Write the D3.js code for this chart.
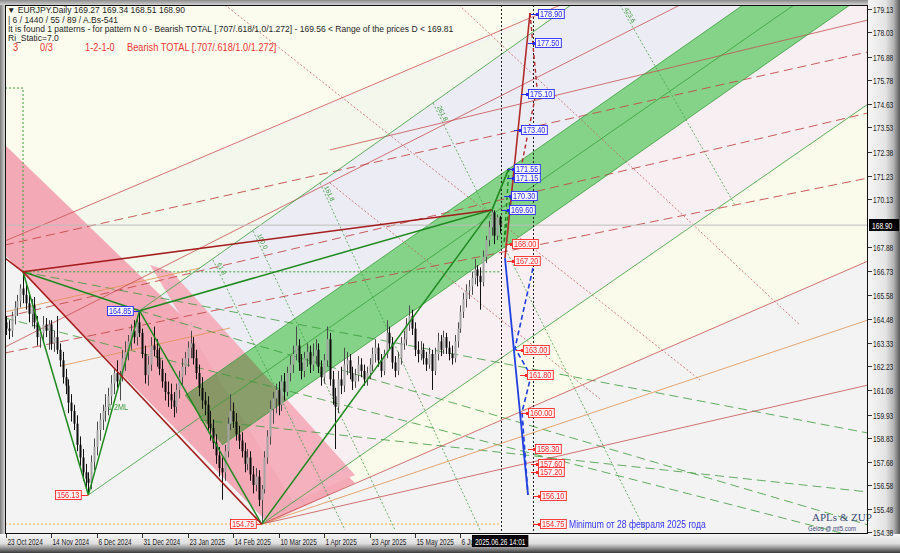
<!DOCTYPE html>
<html><head><meta charset="utf-8">
<script src="https://cdn.jsdelivr.net/npm/d3@7"></script>
<style>
html,body{margin:0;padding:0;background:#c8c8c8;}
svg{display:block;}
</style></head><body>
<svg id="c" width="900" height="553"></svg>
<script>
// ---------------- DATA ----------------
// Daily candles [open, high, low, close], bar 0 = 23 Oct 2024
const candlesOct24 = [[164.3,164.6,163.7,164.0],[164.0,164.4,163.5,163.9],[163.9,164.8,163.6,164.6],[164.6,165.3,164.2,165.0],[165.0,165.6,164.6,165.3],[165.3,166.1,165.0,165.9],[165.9,166.69,165.2,165.6]];
const candlesNov24 = [[165.6,166.2,164.9,165.2],[165.2,165.6,164.3,164.7],[164.7,165.4,164.1,165.1],[165.1,165.5,164.0,164.3],[164.3,164.6,163.2,163.6],[163.6,164.0,163.1,163.8],[163.8,164.6,163.4,164.2],[164.2,164.5,163.6,163.9],[163.9,164.4,163.0,164.2],[164.2,164.4,163.0,163.3],[163.3,163.9,162.9,163.6],[163.6,164.6,162.8,163.0],[163.0,163.3,162.2,162.5],[162.5,162.9,161.4,161.7],[161.7,162.1,160.9,161.3],[161.3,161.6,160.0,160.5],[160.5,160.9,159.6,160.1],[160.1,160.4,159.2,159.5],[159.5,159.9,158.2,158.5],[158.5,158.9,157.5,157.9],[157.9,158.3,156.8,157.2]];
const candlesDec24 = [[157.2,157.6,156.5,156.9],[156.9,157.2,156.13,156.7],[156.7,158.0,156.4,157.7],[157.7,158.8,157.3,158.4],[158.4,159.6,158.0,159.2],[159.2,160.0,158.7,159.7],[159.7,160.4,159.2,160.1],[160.1,160.9,159.6,160.3],[160.3,161.2,159.9,160.8],[160.8,161.8,160.4,161.4],[161.4,162.1,160.9,161.9],[161.9,162.5,161.2,161.5],[161.5,162.0,160.6,161.8],[161.8,163.0,161.5,162.6],[162.6,163.4,162.0,162.9],[162.9,163.7,162.5,163.4],[163.4,164.2,163.0,163.9],[163.9,164.4,163.3,163.6],[163.6,164.6,163.2,164.3],[164.3,164.85,163.6,163.8],[163.8,164.0,162.6,162.8]];
const candlesJan25 = [[162.8,163.2,161.4,161.8],[161.8,162.7,161.3,162.3],[162.3,163.6,162.0,163.2],[163.2,164.1,162.7,163.0],[163.0,163.5,162.2,162.6],[162.6,163.1,161.8,162.1],[162.1,162.5,161.2,161.5],[161.5,161.9,160.6,161.0],[161.0,161.5,160.3,160.9],[160.9,161.4,160.2,160.6],[160.6,161.0,159.8,160.3],[160.3,161.4,160.0,161.1],[161.1,162.0,160.7,161.7],[161.7,162.6,161.3,162.2],[162.2,162.9,161.8,162.6],[162.6,163.4,162.2,163.1],[163.1,163.9,162.6,163.3],[163.3,163.6,162.3,162.6],[162.6,163.0,161.6,161.9],[161.9,162.3,160.8,161.2],[161.2,161.7,160.2,160.6],[160.6,161.0,159.9,160.4]];
const candlesFeb25 = [[160.4,160.8,159.1,159.5],[159.5,160.1,158.7,159.3],[159.3,159.7,158.3,158.6],[158.6,159.0,157.6,158.0],[158.0,158.4,157.0,157.4],[157.4,157.9,155.9,157.2],[157.2,158.5,156.8,158.2],[158.2,159.8,157.9,159.5],[159.5,160.9,159.2,160.1],[160.1,160.5,159.3,159.6],[159.6,160.0,158.7,159.0],[159.0,159.4,158.3,158.7],[158.7,159.1,157.9,158.2],[158.2,158.6,157.2,157.6],[157.6,158.3,157.3,157.9],[157.9,158.2,156.8,157.1],[157.1,157.5,156.2,156.6],[156.6,157.4,156.3,157.0],[157.0,157.3,155.6,155.9],[155.9,156.6,154.75,156.4]];
const candlesMar25 = [[156.4,158.2,156.2,157.9],[157.9,159.2,157.6,158.9],[158.9,160.6,158.5,160.2],[160.2,161.0,159.5,160.7],[160.7,161.4,160.0,161.1],[161.1,161.5,159.9,160.4],[160.4,161.8,160.1,161.5],[161.5,161.9,160.6,161.0],[161.0,162.2,160.8,161.9],[161.9,162.7,161.5,162.3],[162.3,163.2,161.9,162.8],[162.8,164.1,162.5,163.2],[163.2,163.5,162.0,162.4],[162.4,162.8,161.6,162.0],[162.0,162.9,161.7,162.6],[162.6,163.3,162.2,162.9],[162.9,163.2,161.9,162.3],[162.3,163.3,162.0,162.7],[162.7,163.5,162.3,163.0],[163.0,163.3,161.9,162.2],[162.2,162.5,161.3,161.7]];
const candlesApr25 = [[161.7,162.8,161.4,162.5],[162.5,164.1,162.2,163.5],[163.5,163.8,161.3,161.6],[161.6,162.0,160.4,160.8],[160.8,161.2,158.3,160.3],[160.3,162.0,160.0,161.6],[161.6,162.2,160.9,161.3],[161.3,163.1,161.0,162.3],[162.3,162.9,161.8,162.5],[162.5,162.8,161.6,161.9],[161.9,162.2,161.1,161.5],[161.5,162.1,161.2,161.8],[161.8,162.7,161.5,162.3],[162.3,162.6,161.7,162.0],[162.0,162.3,161.3,161.6],[161.6,162.2,161.3,161.9],[161.9,162.6,161.6,162.3],[162.3,163.1,162.0,162.8],[162.8,163.5,162.4,163.1],[163.1,163.3,162.2,162.5],[162.5,162.8,161.7,162.0],[162.0,163.0,161.8,162.8]];
const candlesMay25 = [[162.8,164.4,162.6,163.8],[163.8,164.1,163.0,163.3],[163.3,163.6,162.1,162.4],[162.4,162.7,161.7,162.0],[162.0,162.9,161.8,162.6],[162.6,163.6,162.3,163.3],[163.3,163.9,163.0,163.5],[163.5,164.5,163.2,164.2],[164.2,165.1,163.9,164.6],[164.6,164.9,163.7,164.0],[164.0,164.3,162.7,163.0],[163.0,163.4,162.4,162.8],[162.8,163.4,162.5,163.0],[163.0,163.3,162.3,162.6],[162.6,162.9,162.0,162.3],[162.3,163.1,162.1,162.8],[162.8,163.0,161.1,162.0],[162.0,163.1,161.8,162.8],[162.8,163.8,162.5,163.4],[163.4,163.7,162.7,163.0],[163.0,163.9,162.8,163.6],[163.6,163.8,162.8,163.1]];
const candlesJun25 = [[163.1,163.4,162.5,162.8],[162.8,163.2,162.3,162.6],[162.6,163.7,162.4,163.4],[163.4,164.3,163.1,164.0],[164.0,165.1,163.8,164.8],[164.8,165.7,164.5,165.4],[165.4,166.1,165.0,165.8],[165.8,166.3,165.4,166.0],[166.0,166.7,165.6,166.4],[166.4,167.3,166.1,166.8],[166.8,167.0,166.0,166.5],[166.5,166.9,164.9,166.2],[166.2,167.7,166.0,167.4],[167.4,168.4,167.1,168.2],[168.2,169.1,167.9,168.8],[168.8,169.72,168.4,169.5],[169.5,169.6,168.0,168.4],[168.4,169.4,168.2,169.27],[169.27,169.34,168.51,168.90]];

const tickBars   = [0,16,32,48,64,80,96,112,128,144,160];
const tickLabels = ["23 Oct 2024","14 Nov 2024","6 Dec 2024","31 Dec 2024","23 Jan 2025","14 Feb 2025","10 Mar 2025","1 Apr 2025","23 Apr 2025","15 May 2025","6 Jun 2025"];
const priceTicks = [179.13,178.03,176.88,175.78,174.63,173.53,172.38,171.23,170.13,167.88,166.73,165.58,164.48,163.33,162.23,161.08,159.93,158.83,157.68,156.58,155.48,154.38];
const lastPrice = 168.90;
const currentBar = 174;
const projectionBar = 185.56;
const currentTimeLabel = "2025.06.26 14:01";

// pattern pivots (bar, price): 0, X, B, C, D
const pivotBars   = [6, 29, 47, 90, 171];
const pivotPrices = [166.69, 156.13, 164.85, 154.75, 169.62];

// shaded zones [bar, price]
const zoneCream      = [[-0.35,179.32],[196.83,179.32],[-0.35,168.15]];
const zoneGreenWhite = [[-0.35,168.15],[198.94,179.32],[47,164.85],[6,166.69],[-0.35,167.34]];
const zoneLavender   = [[47,164.85],[198.94,179.32],[297.18,179.32],[76.06,158.49],[74.3,158.49]];
const zonePinkish    = [[76.06,158.49],[297.18,179.32],[303.52,179.32],[303.52,174.63],[90,154.75],[74.3,158.49]];
const zoneCreamRight = [[90,154.75],[303.52,174.63],[303.52,167.20]];
const pinkBand1      = [[-0.35,172.69],[122.89,156.69],[92.25,154.80],[-0.35,167.49]];
const pinkBand2      = [[50.7,167.01],[58.45,166.68],[122.89,157.07],[101.06,155.79]];
const greenChannel   = [[63.03,160.84],[259.51,179.32],[297.18,179.32],[76.06,158.49]];

// thin lines [bar, price] pairs
const greenThin  = [[[47,164.85],[198.94,179.32]],[[90,154.75],[303.52,174.63]],[[29,156.13],[279.58,179.52]],[[63.03,160.84],[259.51,179.32]],[[76.06,158.49],[297.18,179.32]]];
const redThin    = [[[-0.35,168.15],[198.59,179.51]],[[114.08,172.46],[303.52,178.61]],[[-0.35,163.13],[237.32,179.32]],[[90,154.75],[303.52,167.20]],[[90,154.75],[303.52,161.33]]];
const orangeThin = [[[90,154.75],[303.52,164.41]],[[-0.35,164.79],[68.31,166.87]],[[19.01,162.23],[78.87,164.03]]];
const redDashed  = [[[-0.35,167.96],[303.52,177.10]],[[-0.35,164.55],[303.52,174.21]],[[-0.35,162.85],[303.52,171.13]]];
const greenDashed= [[[6,166.69],[303.52,159.06]],[[-0.35,164.50],[303.52,154.0]],[[68.31,159.68],[303.52,156.27]],[[47,164.85],[303.52,154.71]]];
const redDotted  = [[[159.51,179.32],[279.58,164.17]],[[77.11,179.32],[244.37,161.57]],[[114.08,170.89],[209.15,160.67]]];
const fibLines = [
  {label:"61.8",  pts:[[72.89,167.25],[119.37,154.47]]},
  {label:"100.0", pts:[[86.97,168.62],[136.97,154.47]]},
  {label:"161.8", pts:[[110.56,170.89],[166.9,154.47]]},
  {label:"261.8", pts:[[150.35,174.68],[225.0,154.47]]},
  {label:"423.6", pts:[[216.2,179.32],[256.69,169.85]]}
];

// projections
const projRedSolid   = [[175.7,167.34],[184.51,178.94]];
const projRedDashed  = [[184.51,178.94],[186.97,175.39],[181.34,171.60]];
const projGreenSolid = [[171.13,169.62],[177.11,171.60]];
const projGreenDashed= [[177.11,171.60],[175.35,168.05],[177.82,170.33]];
const projBlueSolid  = [[175.7,167.34],[183.8,156.13]];
const projBlueDashed = [[185.56,166.87],[179.23,163.08],[184.86,161.76],[181.69,160.05],[183.8,156.13]];

// level labels [bar, price]
const levelsBlue = [[187.32,178.90],[186.27,177.50],[183.8,175.10],[181.34,173.40],[178.87,171.55],[178.87,171.15],[177.82,170.30],[177.11,169.60]];
const levelsRed  = [[178.17,168.00],[178.87,167.20],[182.04,163.00],[183.45,161.80],[183.8,160.00],[186.27,158.30],[187.32,157.60],[187.32,157.20],[188.03,156.10],[188.03,154.75]];
const pivotLabels = [{bar:35.56,price:164.85,kind:"blue",to:47},{bar:17.25,price:156.13,kind:"red",to:29},{bar:78.87,price:154.75,kind:"red",to:90}];
const minimumNote = "Minimum от 28 февраля 2025 года";

const headerLines = ["▼ EURJPY.Daily  169.27 169.34 168.51 168.90",
  " | 6 / 1440 / 55 / 89 / A.Bs-541",
  "It is found 1 patterns  -  for pattern N 0 - Bearish TOTAL [.707/.618/1.0/1.272] - 169.56 < Range of the prices D < 169.81",
  "Ri_Static=7.0"];
const statusParts = ["3","0/3","1-2-1-0","Bearish TOTAL [.707/.618/1.0/1.272]"];

// ---------------- DRAW ----------------
const candles = [].concat(candlesOct24,candlesNov24,candlesDec24,candlesJan25,candlesFeb25,candlesMar25,candlesApr25,candlesMay25,candlesJun25);
const FONT = '"Liberation Sans",Arial,sans-serif';
const SQ = 0.8; // horizontal condensing of MT-style narrow text
const PL=5, PT=5, PR=868, PB=534;
const x = d3.scaleLinear().domain([0,174]).range([6,500.16]);
const y = d3.scaleLinear().domain([154.28,179.32]).range([PB,PT]);
const line = d3.line().x(d=>x(d[0])).y(d=>y(d[1]));
const svg = d3.select("#c");
const defs = svg.append("defs");
defs.append("clipPath").attr("id","clip").append("rect").attr("x",PL).attr("y",PT).attr("width",PR-PL).attr("height",PB-PT);
function grad(id, x1,y1,x2,y2, stops){
  const gg = defs.append("linearGradient").attr("id",id).attr("x1",x1).attr("y1",y1).attr("x2",x2).attr("y2",y2);
  stops.forEach(s=>gg.append("stop").attr("offset",s[0]).attr("stop-color",s[1]));
}
grad("gR","0","0","1","0",[[0,"#f6f6f6"],[0.55,"#e4e4e4"],[0.8,"#b4b4b4"],[1,"#585858"]]);
grad("gB","0","0","0","1",[[0,"#f6f6f6"],[0.5,"#dedede"],[0.72,"#9a9a9a"],[1,"#383838"]]);
grad("gL","0","0","1","0",[[0,"#7a7a7a"],[1,"#d6d6d6"]]);
grad("gT","0","0","0","1",[[0,"#8a8a8a"],[1,"#d2d2d2"]]);

// condensed text helper
function ntext(parent, tx, ty, size, str, fill, sq){
  const k = sq===undefined ? SQ : sq;
  const gg = parent.append("g").attr("transform",`translate(${tx},${ty}) scale(${k},1)`);
  const t = gg.append("text").attr("x",0).attr("y",0).attr("font-family",FONT).attr("font-size",size).attr("fill",fill).text(str);
  return {g:gg, t:t, width:t.node().getComputedTextLength()*k};
}

svg.append("rect").attr("width",900).attr("height",553).attr("fill","#cfcfcf");
svg.append("rect").attr("x",PR).attr("y",0).attr("width",900-PR).attr("height",553).attr("fill","url(#gR)");
svg.append("rect").attr("x",0).attr("y",PB).attr("width",900).attr("height",553-PB).attr("fill","url(#gB)");
svg.append("rect").attr("x",0).attr("y",0).attr("width",PL).attr("height",PB).attr("fill","url(#gL)");
svg.append("rect").attr("x",0).attr("y",0).attr("width",PR).attr("height",PT).attr("fill","url(#gT)");

const g = svg.append("g").attr("clip-path","url(#clip)");
g.append("rect").attr("x",PL).attr("y",PT).attr("width",PR-PL).attr("height",PB-PT).attr("fill","#f3f3f3");
function poly(pts, fill, extra){ const p=g.append("path").attr("d",line(pts)+"Z").attr("fill",fill); if(extra) extra(p); return p; }
poly(zoneCream,"#fcfcee");
poly(zoneGreenWhite,"#f3f7ec");
poly(zoneLavender,"#ececf4");
poly(zonePinkish,"#f8eff2");
poly(zoneCreamRight,"#fbfbeb");
poly(pinkBand1,"#f4a9b7");
poly(pinkBand2,"#f5b1be");
poly(greenChannel,"#8fe48f", p=>p.style("mix-blend-mode","multiply"));

function lines(arr, color, w, dash){
  arr.forEach(pts=>{ const p=g.append("path").attr("d",line(pts)).attr("fill","none").attr("stroke",color).attr("stroke-width",w);
    if(dash) p.attr("stroke-dasharray",dash); });
}
lines(redDotted,"#c86060",0.8,"2,2");
fibLines.forEach(f=>{
  g.append("path").attr("d",line(f.pts)).attr("fill","none").attr("stroke","#45a045").attr("stroke-width",0.8).attr("stroke-dasharray","2,2");
  const x1=x(f.pts[0][0]), y1=y(f.pts[0][1]), x2=x(f.pts[1][0]), y2=y(f.pts[1][1]);
  const ang=Math.atan2(y2-y1,x2-x1)*180/Math.PI;
  g.append("text").attr("transform",`translate(${x1+4},${y1+4}) rotate(${ang})`).attr("font-family",FONT).attr("font-size",6.5).attr("fill","#3f9a3f").text(f.label);
});
lines(greenDashed,"#3a9a3a",0.8,"9,5");
lines(redDashed,"#c44a4a",0.9,"9,5");
lines(orangeThin,"#e09050",0.8);
lines(redThin,"#c85050",0.8);
lines(greenThin,"#3a9e3a",0.8);

// helper horizontals / verticals
g.append("line").attr("x1",PL).attr("x2",PR).attr("y1",y(lastPrice)).attr("y2",y(lastPrice)).attr("stroke","#bcbcbc").attr("stroke-width",1);
g.append("path").attr("d",line([[-0.35,175.39],[pivotBars[0],175.39],[pivotBars[0],pivotPrices[0]],[currentBar,pivotPrices[0]]])).attr("fill","none").attr("stroke","#3aa03a").attr("stroke-width",1).attr("stroke-dasharray","2,2");
g.append("path").attr("d",line([[-0.35,pivotPrices[3]],[currentBar,pivotPrices[3]]])).attr("fill","none").attr("stroke","#f0b040").attr("stroke-width",1).attr("stroke-dasharray","2,2");
g.append("path").attr("d",line([[projectionBar,pivotPrices[3]],[188,pivotPrices[3]]])).attr("fill","none").attr("stroke","#f0b040").attr("stroke-width",1).attr("stroke-dasharray","2,2");
[currentBar+0.15, projectionBar].forEach(b=>{
  g.append("line").attr("x1",Math.round(x(b))+0.5).attr("x2",Math.round(x(b))+0.5).attr("y1",PT).attr("y2",PB).attr("stroke","#222").attr("stroke-width",1).attr("stroke-dasharray","2,2");
});

// candles
candles.forEach((c,i)=>{
  const [o,h,l,cl]=c; const bull = cl>=o; const cx=Math.round(x(i));
  g.append("line").attr("x1",cx+0.5).attr("x2",cx+0.5).attr("y1",y(h)).attr("y2",y(l)).attr("stroke",bull?"#4a4a4a":"#111").attr("stroke-width",1);
  const top=y(Math.max(o,cl)), bot=y(Math.min(o,cl));
  g.append("rect").attr("x",cx-0.5).attr("y",top).attr("width",2).attr("height",Math.max(1,bot-top)).attr("fill",bull?"#a4a4a4":"#0c0c0c");
});

// pattern lines
const P = pivotBars.map((b,i)=>[b,pivotPrices[i]]);
const greenPattern = [[P[0],P[1]],[P[1],P[2]],[P[2],P[3]],[P[3],P[4]],[P[0],P[2]],[P[2],P[4]]];
lines(greenPattern,"#1f8a1f",1.5);
lines([[P[0],P[3]],[[-0.35,167.34],P[0]],[P[0],P[4]]],"#a51c1c",1.6);

// projections
g.append("path").attr("d",line(projRedSolid)).attr("fill","none").attr("stroke","#b02a2a").attr("stroke-width",1.6);
g.append("path").attr("d",line(projRedDashed)).attr("fill","none").attr("stroke","#b02a2a").attr("stroke-width",1.4).attr("stroke-dasharray","4,3");
g.append("path").attr("d",line(projGreenSolid)).attr("fill","none").attr("stroke","#1f8a1f").attr("stroke-width",1.6);
g.append("path").attr("d",line(projGreenDashed)).attr("fill","none").attr("stroke","#1f8a1f").attr("stroke-width",1.4).attr("stroke-dasharray","4,3");
g.append("path").attr("d",line(projBlueSolid)).attr("fill","none").attr("stroke","#2040e0").attr("stroke-width",1.8);
g.append("path").attr("d",line(projBlueDashed)).attr("fill","none").attr("stroke","#2040e0").attr("stroke-width",1.6).attr("stroke-dasharray","5,3");

// level labels
function levelBox(bx, price, kind, connectTo){
  const col = kind==="blue" ? "#2a2aff" : "#ff2a2a";
  const bg  = kind==="blue" ? "#f6f6ff" : "#fff4f4";
  const yy = Math.round(y(price));
  const lg = g.append("g");
  const r = lg.append("rect");
  const tt = ntext(lg, bx+2, yy+3.1, 8.5, price.toFixed(2), col, 0.86);
  const w = tt.width;
  r.attr("x",bx+0.5).attr("y",yy-4.5).attr("width",w+3.5).attr("height",9).attr("fill",bg).attr("stroke",col).attr("stroke-width",0.9);
  if(connectTo!==undefined){
    const cx = x(connectTo);
    const sx = cx > bx ? bx+w+4 : bx;
    lg.append("line").attr("x1",sx).attr("x2",cx).attr("y1",yy+0.5).attr("y2",yy+0.5).attr("stroke",col).attr("stroke-width",1);
  } else {
    lg.append("line").attr("x1",bx-7).attr("x2",bx).attr("y1",yy+0.5).attr("y2",yy+0.5).attr("stroke",col).attr("stroke-width",1);
    lg.append("rect").attr("x",bx-2).attr("y",yy-1).attr("width",2).attr("height",3).attr("fill",col);
  }
  return w;
}
levelsBlue.forEach(d=>levelBox(x(d[0]),d[1],"blue"));
levelsRed.forEach(d=>levelBox(x(d[0]),d[1],"red"));
pivotLabels.forEach(d=>levelBox(x(d.bar),d.price,d.kind,d.to));
const lastRed = levelsRed[levelsRed.length-1];
ntext(g, x(lastRed[0])+29, Math.round(y(lastRed[1]))+4, 11, minimumNote, "#3434ff", 0.78);
ntext(g, x(35.9), y(160.29)+3, 9, "1/2ML", "#3a9a3a");

// header texts
const hdr = svg.append("g");
const hy=[12.5,22.5,31.5,40.5];
headerLines.forEach((s,i)=>hdr.append("text").attr("x",i===0?7:8).attr("y",hy[i]).attr("font-family",FONT).attr("font-size",8.5).attr("fill","#262626").text(s));
const sx=[13,40,85,127];
statusParts.forEach((s,i)=>ntext(hdr, sx[i], 51, 11, s, "#f03434", 0.84));

// bottom-right signature
svg.append("text").attr("x",812).attr("y",521).attr("font-family","'Liberation Serif',serif").attr("font-size",11).attr("fill","#3a4a78").text("APLs & ZUP");
ntext(svg, 808, 531, 7.5, "Gelos @ mt5.com", "#3a4a78");

// frame
svg.append("rect").attr("x",PL+0.5).attr("y",PT+0.5).attr("width",PR-PL-1).attr("height",PB-PT-1).attr("fill","none").attr("stroke","#111").attr("stroke-width",1);

// price axis
const ax = svg.append("g");
priceTicks.forEach(p=>{
  const yy=Math.round(y(p))+0.5;
  ax.append("line").attr("x1",PR).attr("x2",PR+4).attr("y1",yy).attr("y2",yy).attr("stroke","#333");
  ntext(ax, PR+5, yy+3.3, 9.5, p.toFixed(2), "#222", 0.7);
});
ax.append("rect").attr("x",PR+1).attr("y",Math.round(y(lastPrice))-6).attr("width",30).attr("height",12).attr("fill","#000");
ntext(ax, PR+4, Math.round(y(lastPrice))+3.5, 9.5, lastPrice.toFixed(2), "#fff", 0.7);

// time axis
defs.append("clipPath").attr("id","clipT").append("rect").attr("x",0).attr("y",PB).attr("width",x(currentBar)-27).attr("height",553-PB);
const axT = ax.append("g").attr("clip-path","url(#clipT)");
tickBars.forEach((b,i)=>{
  const xx=Math.round(x(b))+0.5;
  ax.append("line").attr("x1",xx).attr("x2",xx).attr("y1",PB).attr("y2",PB+4).attr("stroke","#333");
  ntext(axT, xx+1, PB+10.5, 9, tickLabels[i], "#222", 0.72);
});
const cxT = x(currentBar);
const tb = ax.append("rect").attr("fill","#000");
const tt = ntext(ax, 0, PB+10.5, 9, currentTimeLabel, "#fff", 0.72);
tt.g.attr("transform",`translate(${cxT-tt.width/2},${PB+10.5}) scale(0.72,1)`);
tb.attr("x",cxT-tt.width/2-3).attr("y",PB+1).attr("width",tt.width+6).attr("height",12);
</script>
</body></html>
